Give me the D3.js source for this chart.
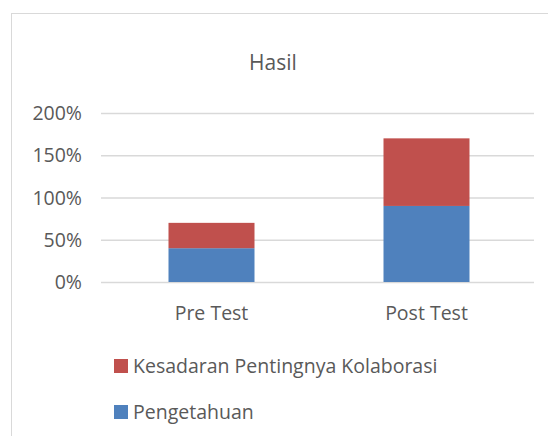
<!DOCTYPE html>
<html>
<head>
<meta charset="utf-8">
<script src="https://cdn.jsdelivr.net/npm/d3@7"></script>
<style>
  body { margin: 0; background: #fff; }
  text { font-family: "Open Sans", "Noto Sans", sans-serif; fill: #595959; }
</style>
</head>
<body>
<svg width="548" height="436"></svg>
<script>
var categories = ['Pre Test', 'Post Test'];
var pengetahuan = [0.40, 0.90];
var kesadaran = [0.30, 0.80];
var seriesNames = ['Pengetahuan', 'Kesadaran Pentingnya Kolaborasi'];
var yTicks = [0, 0.5, 1, 1.5, 2];

var colors = {'Pengetahuan': '#4F81BD', 'Kesadaran Pentingnya Kolaborasi': '#C0504D'};

var svg = d3.select('svg');

// chart frame
svg.append('rect')
    .attr('x', 11.5).attr('y', 13.5)
    .attr('width', 560).attr('height', 440)
    .attr('fill', '#fff')
    .attr('stroke', '#d9d9d9');

svg.append('text')
    .attr('x', 273).attr('y', 70)
    .attr('text-anchor', 'middle')
    .style('font-size', '21px')
    .text('Hasil');

var padding = {l: 101, r: 534, t: 113, b: 282};

var x = d3.scaleBand()
    .domain(categories)
    .range([padding.l + 3, padding.r])
    .paddingInner(0.6)
    .paddingOuter(0.3);

var y = d3.scaleLinear()
    .domain([0, 2])
    .range([padding.b, padding.t]);

// gridlines
var grid = d3.axisLeft(y).tickValues(yTicks).tickSize(-(padding.r - padding.l)).tickFormat('');
svg.append('g')
    .attr('transform', 'translate(' + padding.l + ',0)')
    .call(grid)
    .call(function(g) {
        g.select('.domain').remove();
        g.selectAll('line').attr('stroke', '#d9d9d9').attr('stroke-width', 1.5);
    });

// y labels
svg.append('g')
    .selectAll('text')
    .data(yTicks)
    .enter()
    .append('text')
    .attr('x', 82)
    .attr('y', function(d) { return y(d) + 7; })
    .attr('text-anchor', 'end')
    .style('font-size', '19.5px')
    .text(function(d) { return d3.format('.0%')(d); });

// stacked bars
var rows = categories.map(function(c, i) {
    return {cat: c, 'Pengetahuan': pengetahuan[i], 'Kesadaran Pentingnya Kolaborasi': kesadaran[i]};
});
var stack = d3.stack().keys(seriesNames)(rows);

svg.append('g')
    .selectAll('g')
    .data(stack)
    .enter()
    .append('g')
    .attr('fill', function(d) { return colors[d.key]; })
    .selectAll('rect')
    .data(function(d) { return d; })
    .enter()
    .append('rect')
    .attr('x', function(d) { return x(d.data.cat); })
    .attr('width', x.bandwidth())
    .attr('y', function(d) { return y(d[1]); })
    .attr('height', function(d) { return y(d[0]) - y(d[1]); });

// category labels
svg.append('g')
    .selectAll('text')
    .data(categories)
    .enter()
    .append('text')
    .attr('x', function(d) { return x(d) + x.bandwidth() / 2; })
    .attr('y', 320)
    .attr('text-anchor', 'middle')
    .style('font-size', '19.5px')
    .text(function(d) { return d; });

// legend
var legendOrder = ['Kesadaran Pentingnya Kolaborasi', 'Pengetahuan'];
var key = svg.append('g')
    .selectAll('g')
    .data(legendOrder)
    .enter()
    .append('g');

key.append('rect')
    .attr('x', 114)
    .attr('y', function(d, i) { return 359 + 46 * i; })
    .attr('width', 14).attr('height', 14)
    .attr('fill', function(d) { return colors[d]; });

key.append('text')
    .attr('x', 133)
    .attr('y', function(d, i) { return 373 + 46 * i; })
    .style('font-size', '19.5px')
    .text(function(d) { return d; });
</script>
</body>
</html>
